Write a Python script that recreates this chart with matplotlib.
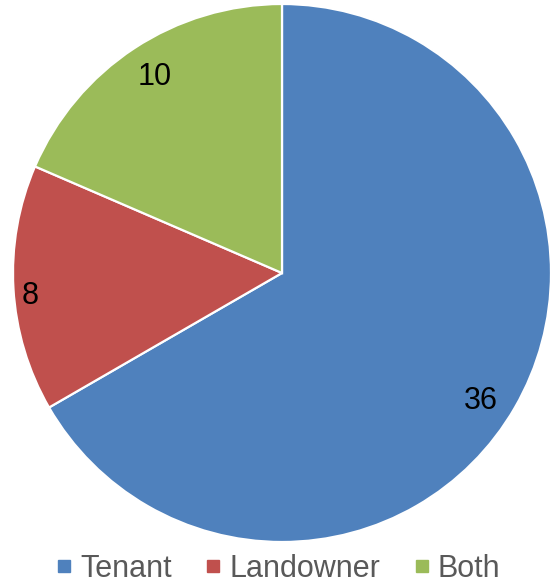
import numpy as np
import matplotlib.pyplot as plt
from matplotlib.lines import Line2D

plt.rcParams['font.family'] = ['Liberation Sans', 'DejaVu Sans']

categories = ['Tenant', 'Landowner', 'Both']
values = [36, 8, 10]
colors = ['#4F81BD', '#C0504D', '#9BBB59']

fig = plt.figure(figsize=(5.51, 5.85), dpi=100)
# pie circle: center (282, 273) px from top-left, radius ~269 px
ax = fig.add_axes([13 / 551, 43 / 585, 538 / 551, 538 / 585])

wedges, texts, autotexts = ax.pie(
    values, colors=colors, startangle=90, counterclock=False,
    autopct=lambda p: '%d' % round(p * sum(values) / 100),
    pctdistance=0.875,
    wedgeprops=dict(edgecolor='white', linewidth=1.6),
    textprops=dict(fontsize=22, color='black'))

# label placement tweaks (Excel best-fit): radius and angle offset per slice
label_dist = [0.872, 0.939, 0.88]
label_shift = [-2.0, 1.0, -0.7]
for w, t, d, s in zip(wedges, autotexts, label_dist, label_shift):
    ang = np.deg2rad((w.theta1 + w.theta2) / 2 + s)
    t.set_position((d * np.cos(ang), d * np.sin(ang)))
    t.set_va('center_baseline')

ax.set_xlim(-1, 1)
ax.set_ylim(-1, 1)
ax.set_aspect('equal')

handles = [Line2D([], [], marker='s', linestyle='none', markersize=8,
                  markerfacecolor=c, markeredgecolor=c) for c in colors]
fig.legend(handles, categories, loc='center', bbox_to_anchor=(0.503, 1 - 569 / 585),
           ncol=3, frameon=False, fontsize=22, labelcolor='#595959',
           handletextpad=0.18, columnspacing=1.0, handlelength=0.7)

fig.savefig('out.png', dpi=100)
